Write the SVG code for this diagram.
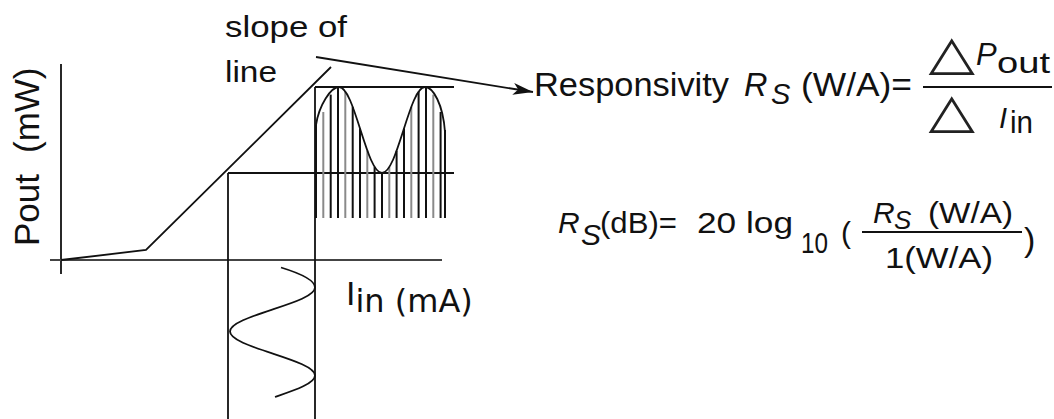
<svg xmlns="http://www.w3.org/2000/svg" width="1054" height="419" viewBox="0 0 1054 419">
  <style>
    .ln { stroke: #111; stroke-width: 1.8; fill: none; }
    .ax { stroke: #444; stroke-width: 2; fill: none; }
    .hd { stroke: #111; stroke-width: 2; }
    .hg { stroke: #8a8a8a; stroke-width: 2; }
    .t { font-family: "Liberation Sans", Arial, sans-serif; fill: #111; }
    .ti { font-family: "Liberation Sans", Arial, sans-serif; font-style: italic; fill: #111; }
    .tv { font-family: "DejaVu Sans", sans-serif; fill: #111; }
    .tri { font-family: "DejaVu Sans", sans-serif; fill: #222; }
  </style>
  <defs>
    <marker id="arrow" markerUnits="userSpaceOnUse" viewBox="-1 -8 23 16" markerWidth="23" markerHeight="16" refX="20" refY="0" orient="auto">
      <path d="M0,-6 L20,0 L0,6 L5,0 z" fill="#111"/>
    </marker>
  </defs>
  <rect width="1054" height="419" fill="#fff"/>

  <!-- axes -->
  <g id="axes">
    <line class="ln" x1="61" y1="64" x2="61" y2="274"/>
    <line class="ax" x1="50" y1="260" x2="442" y2="260"/>
  </g>

  <!-- transfer characteristic -->
  <g id="characteristic">
    <polyline class="ln" points="61,260 146,250 331,67"/>
  </g>

  <!-- bias and swing guide lines -->
  <g id="guides">
    <line class="ln" x1="228" y1="173" x2="454" y2="173"/>
    <line class="ln" x1="228" y1="173" x2="228" y2="419"/>
    <line class="ln" x1="315" y1="87" x2="315" y2="419"/>
    <line class="ln" x1="315" y1="87" x2="454" y2="87"/>
  </g>

  <!-- modulated output -->
  <g id="output-wave">
    <g>
      <line class="hd" x1="316" y1="125" x2="316" y2="218"/>
      <line class="hg" x1="323.3" y1="112" x2="323.3" y2="218"/>
      <line class="hd" x1="330.7" y1="94.6" x2="330.7" y2="218"/>
      <line class="hd" x1="338" y1="87" x2="338" y2="218"/>
      <line class="hg" x1="345.3" y1="91.5" x2="345.3" y2="218"/>
      <line class="hd" x1="352.7" y1="106.8" x2="352.7" y2="218"/>
      <line class="hd" x1="360" y1="128.4" x2="360" y2="218"/>
      <line class="hg" x1="367.3" y1="150.5" x2="367.3" y2="218"/>
      <line class="hd" x1="374.6" y1="166.9" x2="374.6" y2="218"/>
      <line class="hd" x1="382" y1="173" x2="382" y2="218"/>
      <line class="hg" x1="389.3" y1="167" x2="389.3" y2="218"/>
      <line class="hd" x1="396.6" y1="150.8" x2="396.6" y2="218"/>
      <line class="hd" x1="404" y1="128.4" x2="404" y2="218"/>
      <line class="hg" x1="411.3" y1="106.8" x2="411.3" y2="218"/>
      <line class="hd" x1="418.6" y1="91.6" x2="418.6" y2="218"/>
      <line class="hd" x1="426" y1="87" x2="426" y2="218"/>
      <line class="hg" x1="433.3" y1="94.6" x2="433.3" y2="218"/>
      <line class="hd" x1="440.6" y1="112" x2="440.6" y2="218"/>
      <line class="hd" x1="445" y1="130" x2="445" y2="218" stroke-width="2.5"/>
    </g>
    <path class="ln" d="M316,125 C319,105 331,87 339,87 C346.8,87 353.5,108 360.5,130 C367.5,152 374.2,173 382,173 C389.8,173 396.5,152 403.5,130 C410.5,108 417.2,87 425,87 C433,87 443,104 445,132"/>
  </g>

  <!-- modulated input -->
  <g id="input-wave">
    <path class="ln" d="M281,267.5 C299,273 315,280 315,287.5 C315,295.5 294.3,302.3 272.5,309.5 C250.7,316.7 230,323.5 230,331.5 C230,339.5 250.7,346.3 272.5,353.5 C294.3,360.7 315,367.5 315,375.5 C315,383.5 294.3,390.3 275,397"/>
  </g>

  <!-- connectors -->
  <g id="connectors">
    <line class="ln" x1="316" y1="57" x2="533" y2="92" marker-end="url(#arrow)"/>
  </g>

  <!-- axis and slope labels -->
  <g id="label-pout">
    <text class="t" font-size="35" transform="translate(39,246) rotate(-90)">Pout<tspan x="93">(mW)</tspan></text>
  </g>
  <g id="label-slope">
    <text class="t" font-size="30" x="225" y="37" textLength="122" lengthAdjust="spacingAndGlyphs">slope of</text>
    <text class="t" font-size="30" x="225" y="82" textLength="52" lengthAdjust="spacingAndGlyphs">line</text>
  </g>
  <g id="label-iin">
    <text class="tv" font-size="32" x="346" y="305">I<tspan dy="7">in (mA)</tspan></text>
  </g>

  <!-- responsivity definition -->
  <g id="formula-responsivity">
    <text class="t" font-size="32.5" x="534" y="96" textLength="195" lengthAdjust="spacingAndGlyphs">Responsivity</text>
    <text class="ti" font-size="32.5" x="744" y="96">R</text>
    <text class="ti" font-size="29" x="771" y="104">S</text>
    <text class="t" font-size="32.5" x="801" y="96" textLength="111" lengthAdjust="spacingAndGlyphs">(W/A)=</text>
    <line class="ln" x1="923" y1="87" x2="1052" y2="87"/>
    <text class="tri" font-size="48" transform="translate(928.5,69) scale(1.26,1)">△</text>
    <text class="ti" font-size="31" x="976" y="65">P</text>
    <text class="t" font-size="30" x="997" y="73" textLength="53" lengthAdjust="spacingAndGlyphs">out</text>
    <text class="tri" font-size="48" transform="translate(928.5,127) scale(1.26,1)">△</text>
    <text class="ti" font-size="29" x="999" y="128">I</text>
    <text class="t" font-size="31" x="1010" y="133" textLength="23" lengthAdjust="spacingAndGlyphs">in</text>
  </g>

  <!-- responsivity in dB -->
  <g id="formula-db">
    <text class="ti" font-size="30" x="558" y="233">R</text>
    <text class="ti" font-size="30" x="581" y="245">S</text>
    <text class="t" font-size="30" x="600" y="233" textLength="77" lengthAdjust="spacingAndGlyphs">(dB)=</text>
    <text class="t" font-size="30" x="697" y="233" textLength="96" lengthAdjust="spacingAndGlyphs">20 log</text>
    <text class="t" font-size="30" x="801" y="253" textLength="27" lengthAdjust="spacingAndGlyphs">10</text>
    <text class="t" font-size="30" x="841" y="243">(</text>
    <text class="ti" font-size="30" x="873" y="223">R</text>
    <text class="ti" font-size="26" x="894" y="229">S</text>
    <text class="t" font-size="30" x="928" y="223" textLength="85" lengthAdjust="spacingAndGlyphs">(W/A)</text>
    <line class="ln" x1="862" y1="232" x2="1022" y2="232"/>
    <text class="t" font-size="30" x="885" y="268" textLength="108" lengthAdjust="spacingAndGlyphs">1(W/A)</text>
    <text class="t" font-size="34" x="1024" y="251">)</text>
  </g>
</svg>
